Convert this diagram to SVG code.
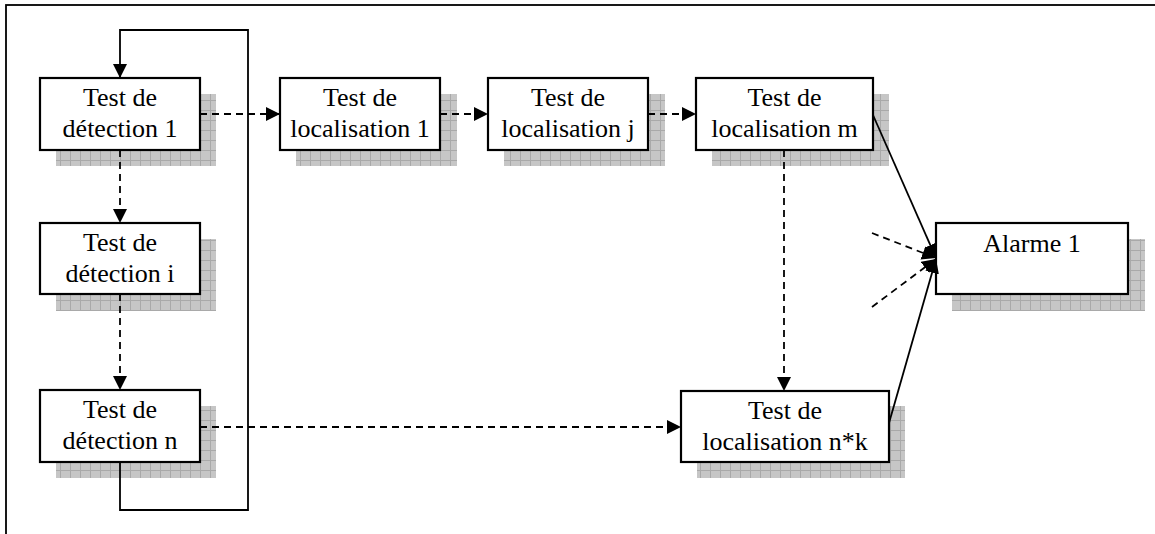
<svg xmlns="http://www.w3.org/2000/svg" width="1155" height="534" viewBox="0 0 1155 534">
<style>
.box{fill:#fff;stroke:#000;stroke-width:2.2}
.sh{fill:url(#grid)}
.t{font-family:'Liberation Serif','Times New Roman',Tinos,'DejaVu Serif',serif;font-size:26px;text-anchor:middle;fill:#000}
.c{fill:none;stroke:#000;stroke-width:1.8}
.d{stroke-dasharray:7 5}
</style>
<defs>
<pattern id="grid" width="10" height="10" patternUnits="userSpaceOnUse">
<rect width="10" height="10" fill="#c6c6c6"/>
<path d="M0 0.5H10M0.5 0V10" stroke="#a9a9a9" stroke-width="1"/>
</pattern>
<marker id="ar" markerUnits="userSpaceOnUse" markerWidth="16" markerHeight="16" refX="14" refY="7" orient="auto">
<path d="M0 0L14 7L0 14z" fill="#000"/>
</marker>
</defs>
<rect x="6" y="5" width="1160" height="540" fill="none" stroke="#000" stroke-width="1.8"/>
<g id="n_det1">
<rect class="sh" x="56" y="94" width="160" height="72"/>
<rect class="box" x="40" y="78" width="160" height="72"/>
<text class="t" x="120" y="106" font-family="Liberation Serif, serif">Test de</text>
<text class="t" x="120" y="137" font-family="Liberation Serif, serif">détection 1</text>
</g>
<g id="n_deti">
<rect class="sh" x="56" y="239" width="160" height="72"/>
<rect class="box" x="40" y="223" width="160" height="71"/>
<text class="t" x="120" y="251" font-family="Liberation Serif, serif">Test de</text>
<text class="t" x="120" y="282" font-family="Liberation Serif, serif">détection i</text>
</g>
<g id="n_detn">
<rect class="sh" x="56" y="406" width="160" height="72"/>
<rect class="box" x="40" y="390" width="160" height="72"/>
<text class="t" x="120" y="418" font-family="Liberation Serif, serif">Test de</text>
<text class="t" x="120" y="449" font-family="Liberation Serif, serif">détection n</text>
</g>
<g id="n_loc1">
<rect class="sh" x="296" y="94" width="161" height="72"/>
<rect class="box" x="280" y="78" width="160" height="72"/>
<text class="t" x="360" y="106" font-family="Liberation Serif, serif">Test de</text>
<text class="t" x="360" y="137" font-family="Liberation Serif, serif">localisation 1</text>
</g>
<g id="n_locj">
<rect class="sh" x="504" y="94" width="161" height="72"/>
<rect class="box" x="488" y="78" width="160" height="72"/>
<text class="t" x="568" y="106" font-family="Liberation Serif, serif">Test de</text>
<text class="t" x="568" y="137" font-family="Liberation Serif, serif">localisation j</text>
</g>
<g id="n_locm">
<rect class="sh" x="712" y="94" width="177" height="72"/>
<rect class="box" x="696" y="78" width="177" height="72"/>
<text class="t" x="784.5" y="106" font-family="Liberation Serif, serif">Test de</text>
<text class="t" x="784.5" y="137" font-family="Liberation Serif, serif">localisation m</text>
</g>
<g id="n_locnk">
<rect class="sh" x="697" y="406" width="208" height="72"/>
<rect class="box" x="681" y="391" width="208" height="71"/>
<text class="t" x="785" y="419" font-family="Liberation Serif, serif">Test de</text>
<text class="t" x="785" y="450" font-family="Liberation Serif, serif">localisation n*k</text>
</g>
<g id="n_alarme">
<rect class="sh" x="952" y="239" width="193" height="72"/>
<rect class="box" x="936" y="223" width="192" height="71"/>
<text class="t" x="1032" y="252" font-family="Liberation Serif, serif">Alarme 1</text>
</g>
<g id="connectors">
<path class="c" d="M120 462V510H248V30H120V78" marker-end="url(#ar)"/>
<path class="c d" d="M120 150V223" marker-end="url(#ar)"/>
<path class="c d" d="M120 294V390" marker-end="url(#ar)"/>
<path class="c d" d="M200 114H280" marker-end="url(#ar)"/>
<path class="c d" d="M440 114H488" marker-end="url(#ar)"/>
<path class="c d" d="M648 114H696" marker-end="url(#ar)"/>
<path class="c d" d="M784 150V391" marker-end="url(#ar)"/>
<path class="c d" d="M200 427H681" marker-end="url(#ar)"/>
<path class="c" d="M873 115L936 258" marker-end="url(#ar)"/>
<path class="c" d="M889 423L936 259" marker-end="url(#ar)"/>
<path class="c d" d="M872 233L936 258" marker-end="url(#ar)"/>
<path class="c d" d="M872 307L936 259" marker-end="url(#ar)"/>
</g>
</svg>
